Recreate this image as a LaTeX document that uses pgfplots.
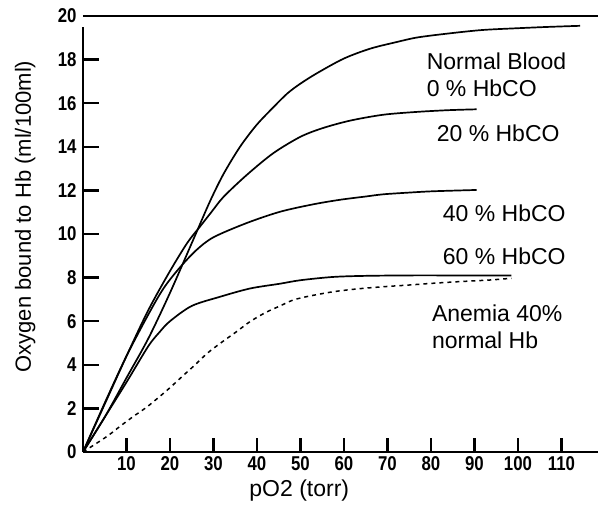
\documentclass[border=0pt]{standalone}
\usepackage{fontspec}
\setmainfont{Liberation Sans}
\newfontfamily\narrowfont[FakeStretch=0.84]{Liberation Sans}
\usepackage{pgfplots}
\pgfplotsset{compat=1.18}
\begin{document}
\begin{tikzpicture}
\path[use as bounding box] (-83pt,-56pt) rectangle (515pt,452pt);
\begin{axis}[
  at={(0,0)}, anchor=south west,
  scale only axis, width=515pt, height=436pt,
  xmin=0, xmax=118.4, ymin=0, ymax=20,
  axis line style={draw=none},
  xtick={10,20,...,110}, ytick={0,2,...,20},
  xtick pos=bottom, ytick pos=left,
  tick align=inside,
  major tick length=0pt,
  /pgf/number format/assume math mode=true,
  ticklabel style={font=\narrowfont\bfseries\fontsize{20}{22}\selectfont},
  xticklabel style={yshift=-1pt},
  yticklabel style={xshift=-3pt},
  xlabel={pO2 (torr)}, ylabel={Oxygen bound to Hb (ml/100ml)},
  xlabel style={font=\fontsize{23}{26}\selectfont, at={(axis description cs:0.42,0)}, anchor=north, yshift=-24pt},
  ylabel style={font=\fontsize{22}{25}\selectfont, at={(axis description cs:0,0.54)}, anchor=south, yshift=44pt},
  clip=false,
]
\draw[line width=1.1pt] (axis cs:0,20) -- (axis cs:118.4,20);
\draw[line width=1.6pt] (axis cs:0,0) -- (axis cs:118.4,0);
\draw[line width=1.8pt] (axis cs:0,0) -- (axis cs:0,19.5);
% tick marks
\addplot[black, line width=2.4pt, ycomb, mark=none, forget plot] coordinates {
(10,0.65) (20,0.65) (30,0.65) (40,0.65) (50,0.65) (60,0.65) (70,0.65) (80,0.65) (90,0.65) (100,0.65) (110,0.65)};
\addplot[black, line width=2.4pt, xcomb, mark=none, forget plot] coordinates {
(3.6,2) (3.6,4) (3.6,6) (3.6,8) (3.6,10) (3.6,12) (3.6,14) (3.6,16) (3.6,18)};
% Normal blood
\addplot[black, line width=1.7pt, smooth] coordinates {
(0,0) (5,1.6) (10,3.4) (15,5.2) (20,7.3) (25.7,9.9) (29.2,11.5) (32.3,12.75) (36.1,14.0) (39.9,15.0) (43.7,15.8) (47,16.45) (50,16.9) (54,17.4) (60,18.05) (66,18.5) (72,18.8) (77,19.02) (85,19.22) (92,19.36) (100,19.44) (107,19.5) (114.3,19.55)};
% 20 % HbCO
\addplot[black, line width=1.7pt, smooth] coordinates {
(0,0) (5,2.2) (10,4.4) (15,6.5) (20,8.3) (24,9.6) (26.9,10.34) (29.5,11.0) (32.3,11.7) (37.6,12.7) (43.7,13.7) (49.9,14.45) (55,14.85) (61.4,15.2) (69,15.47) (76.7,15.6) (84,15.68) (90.5,15.72)};
% 40 % HbCO
\addplot[black, line width=1.7pt, smooth] coordinates {
(0,0) (5,2.25) (10,4.4) (15,6.3) (18.5,7.5) (22,8.4) (26,9.25) (30,9.85) (37.6,10.5) (45.3,11.02) (52.9,11.36) (59.1,11.57) (65,11.72) (69,11.82) (75,11.9) (80.5,11.96) (90.5,12.02)};
% 60 % HbCO
\addplot[black, line width=1.7pt, smooth] coordinates {
(0,0) (5,1.6) (10,3.2) (15,4.85) (17.6,5.5) (20,6.0) (25,6.7) (31.5,7.12) (38.4,7.5) (45.3,7.72) (50,7.88) (57.5,8.03) (65,8.08) (75,8.1) (85,8.1) (98.5,8.1)};
% Anemia
\addplot[black, line width=1.5pt, smooth, dash pattern=on 4pt off 4pt] coordinates {
(0,0) (5.4,0.7) (8.4,1.16) (11.5,1.62) (14.6,2.05) (17.6,2.54) (20,2.95) (23,3.5) (25.5,3.95) (28.7,4.55) (32,5.05) (35.3,5.52) (38.4,5.98) (42,6.4) (45.3,6.7) (48.3,6.97) (52,7.15) (57.5,7.35) (63,7.48) (69,7.58) (75,7.66) (80.5,7.74) (87,7.82) (93.6,7.89) (98.5,7.97)};
\begin{scope}[every node/.style={anchor=west, inner sep=0pt, font=\fontsize{23}{26}\selectfont}]
\node at (axis cs:79.0,17.94) {Normal Blood};
\node at (axis cs:79.0,16.70) {0 \% HbCO};
\node at (axis cs:81.3,14.63) {20 \% HbCO};
\node at (axis cs:82.7,10.96) {40 \% HbCO};
\node at (axis cs:82.7,8.99) {60 \% HbCO};
\node at (axis cs:80.2,6.38) {Anemia 40\%};
\node at (axis cs:80.2,5.14) {normal Hb};
\end{scope}
\end{axis}
\end{tikzpicture}
\end{document}
